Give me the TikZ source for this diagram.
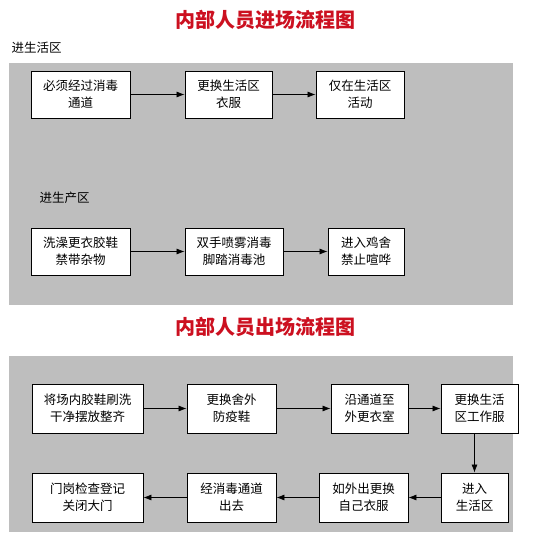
\documentclass[tikz,border=0pt]{standalone}
\usepackage{fontspec}
\newfontfamily\cjk{Noto Sans CJK SC}
\usetikzlibrary{arrows.meta}
\definecolor{panelgray}{HTML}{BEBEBE}
\definecolor{titlered}{HTML}{CC1020}
\tikzset{
  panel/.style={fill=panelgray,draw=none},
  flowbox/.style={draw=black,line width=0.9pt,fill=white,align=center,font=\cjk\fontsize{12.5}{17}\selectfont,inner sep=0pt},
  flowarrow/.style={-{Latex[length=8pt,width=6pt]},line width=0.7pt},
  titletext/.style={font=\cjk\bfseries\fontsize{20}{24}\selectfont,text=titlered},
  secttext/.style={font=\cjk\fontsize{12.5}{15}\selectfont}
}
\begin{document}
\begin{tikzpicture}[x=1pt,y=-1pt]
\useasboundingbox (0,0) rectangle (533,537);
\fill[white] (0,0) rectangle (533,537);
% panels
\fill[panel] (9,63) rectangle (513,305);
\fill[panel] (9,356) rectangle (513,532);
% titles
\node[titletext] (t1) at (265,20) {内部人员进场流程图};
\node[titletext] (t2) at (265,327) {内部人员出场流程图};
\node[secttext,anchor=west] (s1) at (8,48) {进生活区};
\node[secttext,anchor=west] (s2) at (36,198) {进生产区};
% row 1
\node[flowbox,minimum width=99pt,minimum height=47pt] (a1) at (80.5,94.5) {必须经过消毒\\通道};
\node[flowbox,minimum width=87pt,minimum height=47pt] (a2) at (228.5,94.5) {更换生活区\\衣服};
\node[flowbox,minimum width=88pt,minimum height=47pt] (a3) at (360,94.5) {仅在生活区\\活动};
\draw[flowarrow] (a1) -- (a2);
\draw[flowarrow] (a2) -- (a3);
% row 2
\node[flowbox,minimum width=99pt,minimum height=47pt] (b1) at (80.5,251.5) {洗澡更衣胶鞋\\禁带杂物};
\node[flowbox,minimum width=98pt,minimum height=47pt] (b2) at (234,251.5) {双手喷雾消毒\\脚踏消毒池};
\node[flowbox,minimum width=76pt,minimum height=47pt] (b3) at (366,251.5) {进入鸡舍\\禁止喧哗};
\draw[flowarrow] (b1) -- (b2);
\draw[flowarrow] (b2) -- (b3);
% row 3
\node[flowbox,minimum width=111pt,minimum height=49pt] (c1) at (87.5,408.5) {将场内胶鞋刷洗\\干净摆放整齐};
\node[flowbox,minimum width=89pt,minimum height=49pt] (c2) at (231.5,408.5) {更换舍外\\防疫鞋};
\node[flowbox,minimum width=77pt,minimum height=49pt] (c3) at (369.5,408.5) {沿通道至\\外更衣室};
\node[flowbox,minimum width=77pt,minimum height=49pt] (c4) at (479.5,408.5) {更换生活\\区工作服};
\draw[flowarrow] (c1) -- (c2);
\draw[flowarrow] (c2) -- (c3);
\draw[flowarrow] (c3) -- (c4);
% row 4
\node[flowbox,minimum width=111pt,minimum height=49pt] (d1) at (87.5,497.5) {门岗检查登记\\关闭大门};
\node[flowbox,minimum width=89pt,minimum height=49pt] (d2) at (231.5,497.5) {经消毒通道\\出去};
\node[flowbox,minimum width=89pt,minimum height=49pt] (d3) at (363.5,497.5) {如外出更换\\自己衣服};
\node[flowbox,minimum width=67pt,minimum height=49pt] (d4) at (474.5,497.5) {进入\\生活区};
\draw[flowarrow] (c4.south -| d4) -- (d4.north);
\draw[flowarrow] (d4) -- (d3);
\draw[flowarrow] (d3) -- (d2);
\draw[flowarrow] (d2) -- (d1);
\end{tikzpicture}
\end{document}
